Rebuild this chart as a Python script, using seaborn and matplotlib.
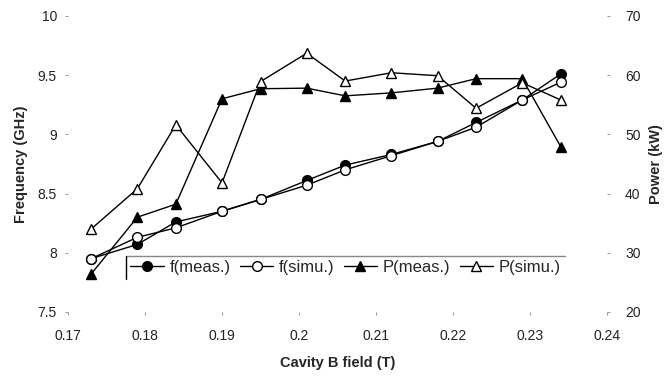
import matplotlib
matplotlib.use("Agg")
import matplotlib.pyplot as plt
import seaborn as sns
import numpy as np
from matplotlib.lines import Line2D

b_field = [0.173, 0.179, 0.184, 0.190, 0.195, 0.201, 0.206, 0.212, 0.218, 0.223, 0.229, 0.234]
f_meas = [7.95, 8.07, 8.26, 8.35, 8.45, 8.61, 8.74, 8.83, 8.94, 9.10, 9.29, 9.51]
f_simu = [7.95, 8.13, 8.21, 8.35, 8.45, 8.57, 8.70, 8.82, 8.94, 9.06, 9.29, 9.44]
p_meas = [26.4, 36.0, 38.2, 56.0, 57.7, 57.8, 56.5, 57.0, 57.8, 59.4, 59.4, 47.9]
p_simu = [34.0, 40.8, 51.6, 41.8, 58.9, 63.7, 59.0, 60.4, 59.9, 54.4, 58.7, 55.8]

x_ticks = [0.17, 0.18, 0.19, 0.20, 0.21, 0.22, 0.23, 0.24]
x_labels = ["0.17", "0.18", "0.19", "0.2", "0.21", "0.22", "0.23", "0.24"]
f_ticks = [7.5, 8, 8.5, 9, 9.5, 10]
f_labels = ["7.5", "8", "8.5", "9", "9.5", "10"]
p_ticks = [20, 30, 40, 50, 60, 70]

sns.set_style("white")
plt.rcParams['font.family'] = ['Liberation Sans', 'DejaVu Sans']

fig = plt.figure(figsize=(6.67, 3.79), dpi=100)
ax = fig.add_axes([0.102, 0.177, 0.808, 0.781])
ax2 = ax.twinx()

ms = 7
common = dict(color="black", linewidth=1.0, markersize=ms, markeredgecolor="black",
              markeredgewidth=1.0, sort=False)
sns.lineplot(x=b_field, y=f_meas, ax=ax, marker="o", markerfacecolor="black", **common)
sns.lineplot(x=b_field, y=f_simu, ax=ax, marker="o", markerfacecolor="white", **common)
sns.lineplot(x=b_field, y=p_meas, ax=ax2, marker="^", markerfacecolor="black", **common)
sns.lineplot(x=b_field, y=p_simu, ax=ax2, marker="^", markerfacecolor="white", **common)

ax.set_xlim(0.17, 0.24)
ax.set_ylim(7.5, 10)
ax2.set_ylim(20, 70)
ax.set_xticks(x_ticks)
ax.set_xticklabels(x_labels)
ax.set_yticks(f_ticks)
ax.set_yticklabels(f_labels)
ax2.set_yticks(p_ticks)

for a in (ax, ax2):
    for s in a.spines.values():
        s.set_visible(False)
ax.tick_params(axis="x", length=2, width=0.6, color="#888888",
               labelsize=10, labelcolor="#222222", pad=10, direction="out", bottom=True)
ax.tick_params(axis="y", length=2, width=0.6, color="#888888",
               labelsize=10, labelcolor="#222222", pad=6, direction="out", left=True)
ax2.tick_params(axis="y", length=2, width=0.6, color="#888888", labelsize=10,
                labelcolor="#222222", pad=11, right=True)

ax.set_xlabel("Cavity B field (T)", fontsize=10.5, fontweight="bold", labelpad=10)
ax.set_ylabel("Frequency (GHz)", fontsize=10.5, fontweight="bold", labelpad=7)
ax2.set_ylabel("Power (kW)", fontsize=10.5, fontweight="bold", labelpad=6)

handles = [
    Line2D([], [], color="black", lw=1, marker="o", markerfacecolor="black", markersize=ms),
    Line2D([], [], color="black", lw=1, marker="o", markerfacecolor="white", markersize=ms),
    Line2D([], [], color="black", lw=1, marker="^", markerfacecolor="black", markersize=ms),
    Line2D([], [], color="black", lw=1, marker="^", markerfacecolor="white", markersize=ms),
]
labels = ["f(meas.)", "f(simu.)", "P(meas.)", "P(simu.)"]
leg = ax2.legend(handles, labels, ncol=4, loc="upper left", bbox_to_anchor=(0.108, 0.189),
                 frameon=False, fontsize=12, handlelength=2.0, handletextpad=0.35,
                 columnspacing=0.55, borderaxespad=0, borderpad=0.25)

fig.canvas.draw()
bb = leg.get_window_extent().transformed(fig.transFigure.inverted())
fig.add_artist(Line2D([bb.x0, bb.x1], [bb.y1, bb.y1], color="#888888", lw=1.0,
                      transform=fig.transFigure))
fig.add_artist(Line2D([bb.x0, bb.x0], [bb.y0, bb.y1], color="black", lw=1.0,
                      transform=fig.transFigure))

fig.savefig("out.png", dpi=100)
